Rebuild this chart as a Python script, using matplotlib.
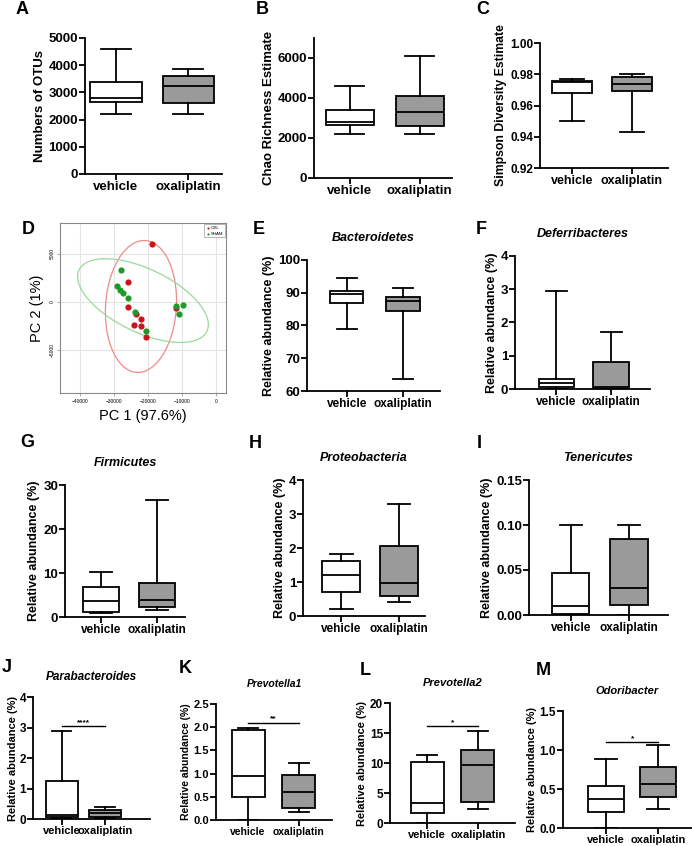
import numpy as np
import matplotlib
matplotlib.use("Agg")
import matplotlib.pyplot as plt

plt.rcParams['font.family'] = ['Liberation Sans', 'DejaVu Sans']

W, H = 692, 846
groups = ['vehicle', 'oxaliplatin']

# five-number summaries: whislo, q1, median, q3, whishi  (vehicle / oxaliplatin)
otus_veh = [2220, 2650, 2780, 3380, 4600]
otus_oxa = [2200, 2600, 3230, 3620, 3870]
chao_veh = [2200, 2650, 2780, 3380, 4600]
chao_oxa = [2200, 2600, 3280, 4100, 6080]
simp_veh = [0.950, 0.968, 0.975, 0.976, 0.977]
simp_oxa = [0.943, 0.969, 0.9735, 0.978, 0.980]
bact_veh = [79.0, 86.8, 89.5, 90.5, 94.5]
bact_oxa = [63.8, 84.3, 87.5, 88.8, 91.4]
defe_veh = [0.0, 0.05, 0.17, 0.30, 2.95]
defe_oxa = [0.0, 0.01, 0.07, 0.82, 1.72]
firm_veh = [0.8, 1.2, 3.7, 6.8, 10.2]
firm_oxa = [1.5, 2.2, 3.8, 7.8, 26.5]
prot_veh = [0.2, 0.7, 1.2, 1.63, 1.83]
prot_oxa = [0.4, 0.6, 0.97, 2.05, 3.3]
tene_veh = [0.0, 0.001, 0.010, 0.047, 0.100]
tene_oxa = [0.0, 0.011, 0.030, 0.085, 0.100]
para_veh = [0.03, 0.08, 0.12, 1.25, 2.9]
para_oxa = [0.02, 0.08, 0.20, 0.30, 0.38]
prv1_veh = [0.0, 0.5, 0.95, 1.95, 1.98]
prv1_oxa = [0.18, 0.25, 0.60, 0.97, 1.23]
prv2_veh = [0.0, 1.6, 3.4, 10.2, 11.4]
prv2_oxa = [2.3, 3.5, 9.6, 12.1, 15.3]
odor_veh = [0.0, 0.21, 0.37, 0.54, 0.89]
odor_oxa = [0.24, 0.40, 0.56, 0.78, 1.07]

# PCA scores (panel D)
oxl_pc1 = [-18900, -25900, -26000, -23500, -22100, -24300, -22100, -20600, -11800]
oxl_pc2 = [6000, 2010, -550, -1250, -1840, -2460, -2570, -3680, -690]
sham_pc1 = [-28000, -29100, -28400, -27400, -25900, -23800, -20700, -11800, -9600, -10800]
sham_pc2 = [3330, 1670, 1250, 870, 420, -1080, -3090, -420, -380, -1250]
# ellipse: centre x, centre y, half range x, half range y, phase (deg)
oxl_ell = [-22100, -490, 10500, 6870, 85]
sham_ell = [-21500, 120, 19300, 4360, 125]

GREY = '#9a9a9a'
LW = 1.3

fig = plt.figure(figsize=(W / 100, H / 100), dpi=100)


def px_axes(left, right, top, bottom):
    return fig.add_axes([left / W, 1 - bottom / H, (right - left) / W, (bottom - top) / H])


def box_panel(box, xlim, ylim, yticks, veh, oxa, ylabel, width=0.65, title=None,
              fs=8.5, yfs=8.5, lfs=9, tfs=9, tpad=14, lpad=2, yfmt=None):
    ax = px_axes(*box)
    stats = []
    for s, lab in zip([veh, oxa], groups):
        stats.append(dict(whislo=s[0], q1=s[1], med=s[2], q3=s[3], whishi=s[4], label=lab))
    bp = ax.bxp(stats, positions=[1, 2], widths=width, patch_artist=True,
                showfliers=False, capwidths=width * 0.6,
                boxprops=dict(linewidth=LW, edgecolor='black'),
                whiskerprops=dict(linewidth=LW), capprops=dict(linewidth=LW),
                medianprops=dict(linewidth=LW, color='black'))
    for patch, c in zip(bp['boxes'], ['white', GREY]):
        patch.set_facecolor(c)
    ax.set_xlim(*xlim)
    ax.set_ylim(*ylim)
    ax.set_yticks(yticks)
    if yfmt:
        ax.set_yticklabels([yfmt.format(v) for v in yticks])
    ax.spines[['top', 'right']].set_visible(False)
    ax.spines[['left', 'bottom']].set_linewidth(LW)
    ax.tick_params(width=LW, length=4, labelsize=fs, pad=1)
    ax.tick_params(axis='y', labelsize=yfs)
    for t in ax.get_xticklabels() + ax.get_yticklabels():
        t.set_fontweight('bold')
    ax.set_ylabel(ylabel, fontsize=lfs, fontweight='bold', labelpad=lpad)
    if title:
        ax.set_title(title, fontsize=tfs, fontweight='bold', style='italic', pad=tpad)
    return ax


def sig(ax, y, text, fs=6):
    ax.plot([1, 2], [y, y], color='black', lw=1.0)
    ax.text(1.5, y, text, ha='center', va='bottom', fontsize=fs, fontweight='bold')


def letter(x, y, s):
    fig.text(x / W, 1 - y / H, s, fontsize=13, fontweight='bold', ha='center', va='center')


RA = 'Relative abundance (%)'

box_panel((85, 222, 38, 174), (0.57, 2.47), (0, 5000), [0, 1000, 2000, 3000, 4000, 5000],
          otus_veh, otus_oxa, 'Numbers of OTUs', width=0.71, fs=9.5, yfs=9.5, lfs=9.5)
box_panel((314, 452, 38, 178), (0.49, 2.46), (0, 7000), [0, 2000, 4000, 6000],
          chao_veh, chao_oxa, 'Chao Richness Estimate', width=0.69, fs=9.5, yfs=9.5, lfs=9.5)
box_panel((540, 668, 43, 168), (0.47, 2.6), (0.92, 1.0), [0.92, 0.94, 0.96, 0.98, 1.00],
          simp_veh, simp_oxa, 'Simpson Diversity Estimate', width=0.67, fs=9, yfs=8.5,
          lfs=8.8, yfmt='{:.2f}')

box_panel((307, 440, 260, 391), (0.29, 2.66), (60, 100), [60, 70, 80, 90, 100],
          bact_veh, bact_oxa, RA, width=0.59, title='Bacteroidetes', yfs=9.5)
box_panel((515, 650, 256, 389), (0.25, 2.71), (0, 4), [0, 1, 2, 3, 4],
          defe_veh, defe_oxa, RA, width=0.64, title='Deferribacteres', yfs=9.5)

box_panel((65, 185, 485, 617), (0.36, 2.5), (0, 30), [0, 10, 20, 30],
          firm_veh, firm_oxa, RA, width=0.64, title='Firmicutes', yfs=9.5)
box_panel((303, 425, 480, 616), (0.34, 2.45), (0, 4), [0, 1, 2, 3, 4],
          prot_veh, prot_oxa, RA, width=0.66, title='Proteobacteria', yfs=9.5)
box_panel((529, 668, 480, 615), (0.28, 2.67), (0, 0.15), [0, 0.05, 0.10, 0.15],
          tene_veh, tene_oxa, RA, width=0.64, title='Tenericutes', yfs=9.5, yfmt='{:.2f}')

ax = box_panel((33, 150, 697, 819), (0.33, 3.05), (0, 4), [0, 1, 2, 3, 4],
               para_veh, para_oxa, RA, width=0.75, title='Parabacteroides', yfs=8.5,
               lfs=8, tfs=8.5, tpad=12, lpad=1, fs=8)
sig(ax, 3.05, '****')
ax = box_panel((216, 332, 704, 820), (0.37, 2.65), (0, 2.5), [0, 0.5, 1.0, 1.5, 2.0, 2.5],
               prv1_veh, prv1_oxa, RA, width=0.65, title='Prevotella1', fs=7.5, yfs=8,
               lfs=7.5, tfs=7.5, tpad=12, yfmt='{:.1f}')
sig(ax, 2.1, '**')
ax = box_panel((390, 515, 703, 823), (0.27, 2.73), (0, 20), [0, 5, 10, 15, 20],
               prv2_veh, prv2_oxa, RA, width=0.65, title='Prevotella2', fs=8, yfs=8.5,
               lfs=8, tfs=8, tpad=12)
sig(ax, 16.1, '*')
ax = box_panel((563, 692, 711, 828), (0.17, 2.65), (0, 1.5), [0, 0.5, 1.0, 1.5],
               odor_veh, odor_oxa, RA, width=0.7, title='Odoribacter', fs=8, yfs=8.5,
               lfs=8, tfs=8, tpad=12, yfmt='{:.1f}')
sig(ax, 1.1, '*')

# panel D: PCA
ax = px_axes(60, 226, 223, 393)
ax.scatter(oxl_pc1, oxl_pc2, s=20, color='#c8141c', zorder=3, label='OXL', linewidths=0)
ax.scatter(sham_pc1, sham_pc2, s=20, color='#1f9a2a', zorder=3, label='SHAM', linewidths=0)
t = np.linspace(0, 2 * np.pi, 300)
for e, c in [(oxl_ell, '#f08a8a'), (sham_ell, '#9ad99a')]:
    ax.plot(e[0] + e[2] * np.cos(t), e[1] + e[3] * np.cos(t + np.radians(e[4])),
            color=c, lw=0.9, zorder=2)
ax.set_xlim(-46000, 3000)
ax.set_ylim(-9500, 8200)
ax.set_xticks([-40000, -30000, -20000, -10000, 0])
ax.set_yticks([-5000, 0, 5000])
ax.grid(True, color='#e4e4e4', lw=0.8)
ax.set_axisbelow(True)
for sp in ax.spines.values():
    sp.set_color('#888888')
    sp.set_linewidth(0.8)
ax.tick_params(labelsize=3.5, length=2, width=0.5, color='#888888', pad=2)
for lab in ax.get_yticklabels():
    lab.set_rotation(90)
    lab.set_va('center')
ax.set_xlabel('PC 1 (97.6%)', fontsize=10.5, labelpad=4)
ax.set_ylabel('PC 2 (1%)', fontsize=10.5, labelpad=4)
leg = ax.legend(loc='upper right', fontsize=3.2, markerscale=0.35, handletextpad=0.2,
                borderpad=0.4, labelspacing=0.3, handlelength=0.8, fancybox=False,
                framealpha=1, borderaxespad=0.3)
leg.get_frame().set_edgecolor('#999999')
leg.get_frame().set_linewidth(0.5)

for x, y, s in [(22, 10, 'A'), (262, 10, 'B'), (483, 10, 'C'), (28, 229, 'D'),
                (259, 229, 'E'), (481, 229, 'F'), (27, 442, 'G'), (255, 443, 'H'),
                (479, 443, 'I'), (7, 667, 'J'), (185, 668, 'K'), (365, 670, 'L'),
                (543, 670, 'M')]:
    letter(x, y, s)

fig.savefig('out.png', dpi=100)
